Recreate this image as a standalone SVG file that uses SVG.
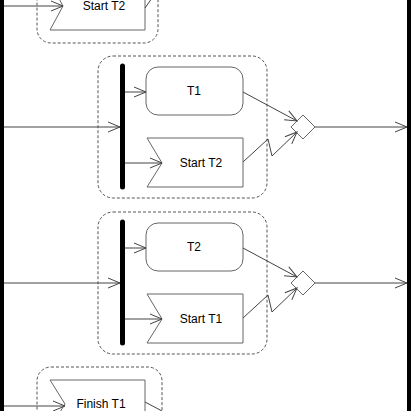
<svg xmlns="http://www.w3.org/2000/svg" width="411" height="411" viewBox="0 0 411 411">
<defs>
<marker id="arr" markerUnits="userSpaceOnUse" markerWidth="14" markerHeight="12" refX="12" refY="5" orient="auto" overflow="visible">
<path d="M0,0 L12,5 L0,10" fill="none" stroke="#444" stroke-width="1"/>
</marker>
<style>
.grp{fill:none;stroke:#555;stroke-width:1;stroke-dasharray:3,2}
.act{fill:#fff;stroke:#666;stroke-width:1}
.bar{stroke:#000;stroke-width:5;stroke-linecap:round}
.edge{fill:none;stroke:#444;stroke-width:1}
.lbl{font-family:"Liberation Sans",Arial,sans-serif;font-size:12px;fill:#000;text-anchor:middle;dominant-baseline:central}
</style>
</defs>
<rect width="411" height="411" fill="#fff"/>
<rect x="0" y="0" width="4" height="411" fill="#000"/>
<rect x="407" y="0" width="4" height="411" fill="#000"/>

<g id="group-top">
<rect class="grp" x="37" y="-40" width="121" height="83" rx="14"/>
<g id="start-t2-top">
<polygon class="act" points="50,-18 145,-18 145,30 50,30 63,6"/>
<text class="lbl" x="104" y="6">Start T2</text>
</g>
</g>

<g id="group-1">
<rect class="grp" x="98" y="56" width="169" height="142" rx="15"/>
<line id="fork-1" class="bar" x1="122.5" y1="66" x2="122.5" y2="187"/>
<g id="t1">
<rect class="act" x="146" y="67" width="97" height="48" rx="12"/>
<text class="lbl" x="194" y="91">T1</text>
</g>
<g id="start-t2">
<polygon class="act" points="147,138 243,138 243,187 147,187 162,163"/>
<text class="lbl" x="201" y="163">Start T2</text>
</g>
</g>
<g id="merge-1">
<polygon class="act" points="291,127 303,115 315,127 303,139"/>
</g>

<g id="group-2">
<rect class="grp" x="98" y="212" width="169" height="142" rx="15"/>
<line id="fork-2" class="bar" x1="122.5" y1="222" x2="122.5" y2="343"/>
<g id="t2">
<rect class="act" x="146" y="223" width="97" height="48" rx="12"/>
<text class="lbl" x="194" y="247">T2</text>
</g>
<g id="start-t1">
<polygon class="act" points="147,294 243,294 243,343 147,343 162,319"/>
<text class="lbl" x="201" y="319">Start T1</text>
</g>
</g>
<g id="merge-2">
<polygon class="act" points="291,283 303,271 315,283 303,295"/>
</g>

<g id="group-bottom">
<rect class="grp" x="37" y="367" width="125" height="80" rx="14"/>
<g id="finish-t1">
<polygon class="act" points="50,380 145,380 145,428 50,428 65,404"/>
<text class="lbl" x="101" y="404">Finish T1</text>
</g>
</g>

<g id="connectors">
<line class="edge" x1="4" y1="6" x2="63" y2="6" marker-end="url(#arr)"/>
<polyline class="edge" points="145,8 152,-2"/>
<line class="edge" x1="4" y1="127" x2="120" y2="127" marker-end="url(#arr)"/>
<line class="edge" x1="125" y1="92" x2="146" y2="92" marker-end="url(#arr)"/>
<line class="edge" x1="125" y1="163" x2="162" y2="163" marker-end="url(#arr)"/>
<line class="edge" x1="243" y1="92" x2="297" y2="121" marker-end="url(#arr)"/>
<polyline class="edge" points="243,162 268,139 272,156 297,132" marker-end="url(#arr)"/>
<line class="edge" x1="315" y1="127" x2="407" y2="127" marker-end="url(#arr)"/>
<line class="edge" x1="4" y1="283" x2="120" y2="283" marker-end="url(#arr)"/>
<line class="edge" x1="125" y1="248" x2="146" y2="248" marker-end="url(#arr)"/>
<line class="edge" x1="125" y1="319" x2="162" y2="319" marker-end="url(#arr)"/>
<line class="edge" x1="243" y1="248" x2="297" y2="277" marker-end="url(#arr)"/>
<polyline class="edge" points="243,318 268,295 272,312 297,288" marker-end="url(#arr)"/>
<line class="edge" x1="315" y1="283" x2="407" y2="283" marker-end="url(#arr)"/>
<line class="edge" x1="4" y1="406" x2="65" y2="406" marker-end="url(#arr)"/>
<polyline class="edge" points="145,402 162,411"/>
</g>
</svg>
